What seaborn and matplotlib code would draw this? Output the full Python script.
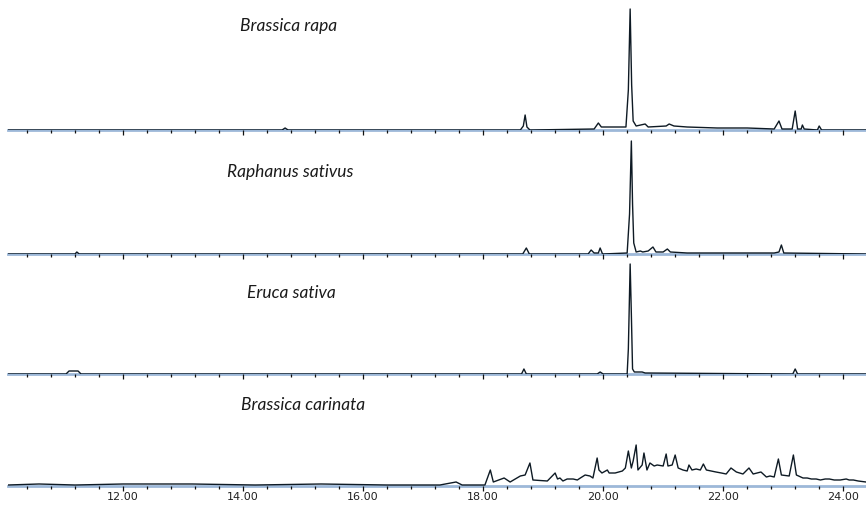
import matplotlib
matplotlib.use('Agg')
import matplotlib.pyplot as plt
from matplotlib.ticker import MultipleLocator, FormatStrFormatter
import seaborn as sns

species = ['Brassica rapa', 'Raphanus sativus', 'Eruca sativa', 'Brassica carinata']

# retention time (min) / detector response
rapa_rt = [10.08, 14.65, 14.70, 14.75, 18.62, 18.67, 18.70, 18.73, 18.78, 19.85, 19.92, 19.97,
           20.38, 20.42, 20.45, 20.475, 20.50, 20.55, 20.70, 20.75, 21.05, 21.10, 21.18, 21.40,
           21.90, 22.40, 22.85, 22.93, 22.98, 23.15, 23.20, 23.24, 23.30, 23.32, 23.35, 23.57,
           23.60, 23.64, 24.38]
rapa_ab = [0, 0, 2, 0, 0, 4, 15, 3, 0, 1, 7, 3,
           3, 40, 121, 45, 9, 4, 6, 3, 4, 6, 4, 3,
           2, 2, 1, 9, 1, 1, 19, 1, 1, 5, 1, 0,
           4, 0, 0]

raph_rt = [10.08, 11.20, 11.23, 11.27, 18.66, 18.72, 18.77, 19.75, 19.80, 19.85, 19.92, 19.95,
           19.99, 20.40, 20.44, 20.47, 20.49, 20.51, 20.55, 20.62, 20.66, 20.75, 20.83, 20.88,
           21.00, 21.07, 21.12, 21.40, 22.85, 22.93, 22.97, 23.01, 24.38]
raph_ab = [0, 0, 2, 0, 0, 6, 0, 0, 4, 1, 1, 6,
           0, 1, 40, 113, 50, 11, 2, 3, 2, 3, 7, 2,
           2, 5, 2, 1, 1, 2, 9, 1, 0]

eruca_rt = [10.08, 11.05, 11.10, 11.25, 11.30, 18.64, 18.68, 18.72, 19.90, 19.95, 20.00, 20.40,
            20.42, 20.45, 20.47, 20.49, 20.52, 20.65, 20.70, 23.16, 23.20, 23.24, 24.38]
eruca_ab = [0, 0, 3, 3, 0, 0, 5, 0, 0, 2, 0, 0,
            25, 110, 60, 5, 2, 2, 1, 0, 5, 0, 0]

carin_rt = [10.08, 10.60, 11.20, 12.00, 13.15, 14.20, 15.30, 16.40, 17.28, 17.55, 17.65, 18.03,
            18.12, 18.17, 18.35, 18.45, 18.62, 18.70, 18.78, 18.83, 19.07, 19.20, 19.24, 19.28,
            19.33, 19.40, 19.50, 19.57, 19.62, 19.70, 19.78, 19.83, 19.90, 19.93, 19.98, 20.07,
            20.10, 20.20, 20.32, 20.37, 20.42, 20.47, 20.50, 20.55, 20.58, 20.65, 20.68, 20.73,
            20.78, 20.85, 20.90, 21.00, 21.05, 21.08, 21.15, 21.20, 21.25, 21.33, 21.40, 21.43,
            21.48, 21.55, 21.62, 21.67, 21.72, 21.80, 21.88, 21.97, 22.05, 22.13, 22.22, 22.33,
            22.43, 22.50, 22.63, 22.72, 22.78, 22.85, 22.92, 22.97, 23.10, 23.17, 23.22, 23.33,
            23.40, 23.47, 23.55, 23.62, 23.70, 23.77, 23.85, 23.95, 24.05, 24.10, 24.17, 24.25,
            24.38]
carin_ab = [1, 2, 1, 2, 2, 1, 2, 1, 1, 4, 1, 1,
            16, 4, 8, 4, 10, 11, 23, 6, 5, 13, 7, 8,
            5, 7, 7, 6, 8, 11, 10, 8, 28, 16, 13, 16,
            13, 13, 15, 18, 35, 18, 25, 41, 16, 21, 33, 16,
            23, 20, 21, 20, 32, 20, 21, 31, 18, 16, 15, 21,
            16, 17, 16, 22, 16, 15, 14, 13, 12, 18, 14, 12,
            18, 12, 14, 9, 10, 9, 27, 11, 10, 31, 11, 8,
            8, 7, 7, 6, 7, 7, 6, 6, 7, 6, 6, 5,
            4]

traces = [(rapa_rt, rapa_ab), (raph_rt, raph_ab), (eruca_rt, eruca_ab), (carin_rt, carin_ab)]

sns.set_style('white')

W, H = 866, 508
fig = plt.figure(figsize=(W / 100, H / 100), dpi=100)

baselines = [130, 254, 374, 486]
title_pos = [(289, 26), (290, 172), (291, 293), (303, 405)]

for i, (rt, ab) in enumerate(traces):
    ax = fig.add_axes([8 / W, 1 - baselines[i] / H, 1 - 8 / W, 122 / H])
    ax.patch.set_alpha(0)
    sns.lineplot(x=rt, y=ab, ax=ax, estimator=None, sort=False,
                 color='#0e1a24', lw=1.0)
    ax.set_xlim(10.083, 24.38)
    ax.set_ylim(0, 122)
    for s in ['top', 'right', 'left']:
        ax.spines[s].set_visible(False)
    ax.spines['bottom'].set_color('#9db8d8')
    ax.spines['bottom'].set_linewidth(2)
    ax.spines['bottom'].set_zorder(0)
    ax.set_yticks([])
    ax.xaxis.set_major_locator(MultipleLocator(2))
    ax.xaxis.set_minor_locator(MultipleLocator(0.4))
    ax.tick_params(axis='x', which='both', bottom=True, direction='out', width=0.9, color='#111111')
    ax.tick_params(axis='x', which='major', length=3.5)
    ax.tick_params(axis='x', which='minor', length=2)
    ax.set_xlabel('')
    ax.set_ylabel('')
    if i < 3:
        ax.tick_params(axis='x', labelbottom=False)
    else:
        ax.xaxis.set_major_formatter(FormatStrFormatter('%.2f'))
        ax.tick_params(axis='x', labelsize=8, pad=1, labelcolor='#222222')
    tx, ty = title_pos[i]
    fig.text(tx / W, 1 - ty / H, species[i], ha='center', va='center',
             fontsize=12.5, style='italic', family='Lato', color='#1a1a1a')

fig.savefig('out.png', dpi=100)
